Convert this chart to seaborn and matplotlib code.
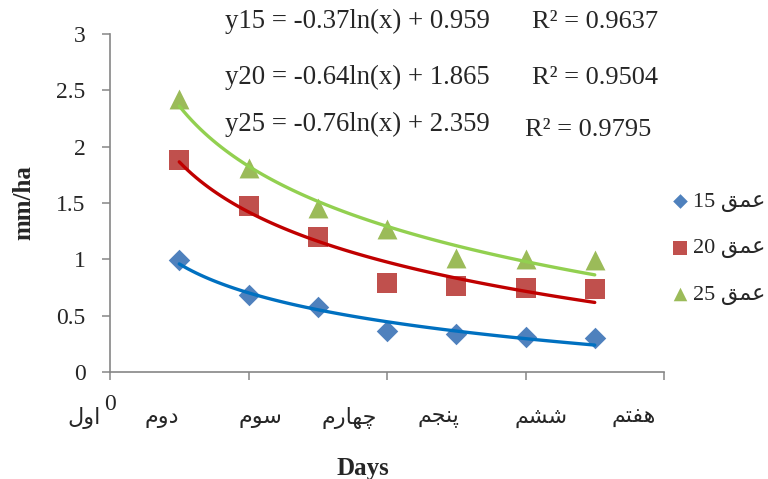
import matplotlib
matplotlib.use('Agg')
import matplotlib.pyplot as plt
import numpy as np
import seaborn as sns

# data
days = [1, 2, 3, 4, 5, 6, 7]
depth15 = [0.99, 0.68, 0.58, 0.36, 0.34, 0.31, 0.30]
depth20 = [1.88, 1.47, 1.20, 0.79, 0.76, 0.75, 0.74]
depth25 = [2.42, 1.81, 1.46, 1.27, 1.01, 1.00, 0.99]
depth_names = ['15', '20', '25']

day_labels = ['اول', 'دوم', 'سوم', 'چهارم', 'پنجم', 'ششم', 'هفتم']
xtick_vals = [0, 2, 4, 6, 8]
xtick_labels = ['0', '', '', '', '']
ytick_vals = [0, 0.5, 1, 1.5, 2, 2.5, 3]
ytick_labels = ['0', '0.5', '1', '1.5', '2', '2.5', '3']
eq_text = ['y15 = -0.37ln(x) + 0.959', 'y20 = -0.64ln(x) + 1.865', 'y25 = -0.76ln(x) + 2.359']
r2_text = ['R² = 0.9637', 'R² = 0.9504', 'R² = 0.9795']

# matplotlib does no arabic shaping, so pick the joined forms by hand
FORMS = {  # isolated, final, initial, medial
    'ا': ('\uFE8D', '\uFE8E', None, None),
    'د': ('\uFEA9', '\uFEAA', None, None),
    'ر': ('\uFEAD', '\uFEAE', None, None),
    'و': ('\uFEED', '\uFEEE', None, None),
    'ت': ('\uFE95', '\uFE96', '\uFE97', '\uFE98'),
    'ج': ('\uFE9D', '\uFE9E', '\uFE9F', '\uFEA0'),
    'س': ('\uFEB1', '\uFEB2', '\uFEB3', '\uFEB4'),
    'ش': ('\uFEB5', '\uFEB6', '\uFEB7', '\uFEB8'),
    'ع': ('\uFEC9', '\uFECA', '\uFECB', '\uFECC'),
    'ف': ('\uFED1', '\uFED2', '\uFED3', '\uFED4'),
    'ق': ('\uFED5', '\uFED6', '\uFED7', '\uFED8'),
    'ل': ('\uFEDD', '\uFEDE', '\uFEDF', '\uFEE0'),
    'م': ('\uFEE1', '\uFEE2', '\uFEE3', '\uFEE4'),
    'ن': ('\uFEE5', '\uFEE6', '\uFEE7', '\uFEE8'),
    'ه': ('\uFEE9', '\uFEEA', '\uFEEB', '\uFEEC'),
    'پ': ('\uFB56', '\uFB57', '\uFB58', '\uFB59'),
    'چ': ('\uFB7A', '\uFB7B', '\uFB7C', '\uFB7D'),
}

def shape(word):
    out = []
    for i, ch in enumerate(word):
        iso, fin, ini, med = FORMS[ch]
        prev = i > 0 and FORMS[word[i - 1]][2] is not None
        nxt = i < len(word) - 1 and ini is not None
        if prev and nxt:
            out.append(med)
        elif prev:
            out.append(fin)
        elif nxt:
            out.append(ini)
        else:
            out.append(iso)
    return ''.join(reversed(out))

sns.set_style('white')
plt.rcParams['font.family'] = ['Liberation Serif', 'DejaVu Sans']

W, H = 768, 479
fig, ax = plt.subplots(figsize=(W / 100, H / 100), dpi=100)
fig.subplots_adjust(left=110 / W, right=664 / W, bottom=1 - 372 / H, top=1 - 34 / H)

marker_colors = ['#4F81BD', '#C0504D', '#9BBB59']
line_colors = ['#0070C0', '#C00000', '#92D050']
markers = ['D', 's', '^']
sizes = [120, 225, 205]

for vals, name, mc, lc, mk, sz in zip([depth15, depth20, depth25], depth_names,
                                      marker_colors, line_colors, markers, sizes):
    sns.scatterplot(x=days, y=vals, marker=mk, s=sz, color=mc, linewidth=0,
                    label=name + ' ' + shape('عمق'), ax=ax, zorder=3)
    sns.regplot(x=np.array(days), y=np.array(vals), logx=True, ci=None, scatter=False,
                ax=ax, line_kws=dict(color=lc, lw=2.4, zorder=4))

ax.set_xlim(0, 8)
ax.set_ylim(0, 3)
ax.set_xticks(xtick_vals)
ax.set_xticklabels(xtick_labels)
ax.set_yticks(ytick_vals)
ax.set_yticklabels(ytick_labels)
ax.tick_params(axis='both', direction='out', length=5.5, width=1.1, color='#868686',
               labelsize=17, pad=12, left=True, bottom=True)
ax.tick_params(axis='x', pad=10)
sns.despine(ax=ax)
for side in ['left', 'bottom']:
    ax.spines[side].set_color('#868686')
    ax.spines[side].set_linewidth(1.2)

ax.set_ylabel('mm/ha', fontsize=18, fontweight='bold')
ax.yaxis.set_label_coords(-0.135, 0.5)
ax.set_xlabel('Days', fontsize=18, fontweight='bold')
ax.xaxis.set_label_coords(0.456, -0.25)

# persian day names sit under the axis, as in the original
label_px = [84, 162, 260, 349, 438, 541, 634]
for px, lab in zip(label_px, day_labels):
    fig.text(px / W, 1 - 418 / H, shape(lab), ha='center', va='center', fontsize=16)

eq_y = [28, 84, 131]
r2_x = [532, 532, 525]
r2_y = [28, 84, 136]
for i in range(3):
    fig.text(225 / W, 1 - eq_y[i] / H, eq_text[i], fontsize=19.3, va='baseline')
    fig.text(r2_x[i] / W, 1 - r2_y[i] / H, r2_text[i], fontsize=19, va='baseline')

ax.legend(loc='upper left', bbox_to_anchor=(671 / W, 1 - 191 / H), bbox_transform=fig.transFigure,
          frameon=False, fontsize=16, markerscale=0.68, handlelength=0.8, handletextpad=0.2,
          labelspacing=1.18, borderpad=0, borderaxespad=0)

fig.savefig('out.png', dpi=100)
